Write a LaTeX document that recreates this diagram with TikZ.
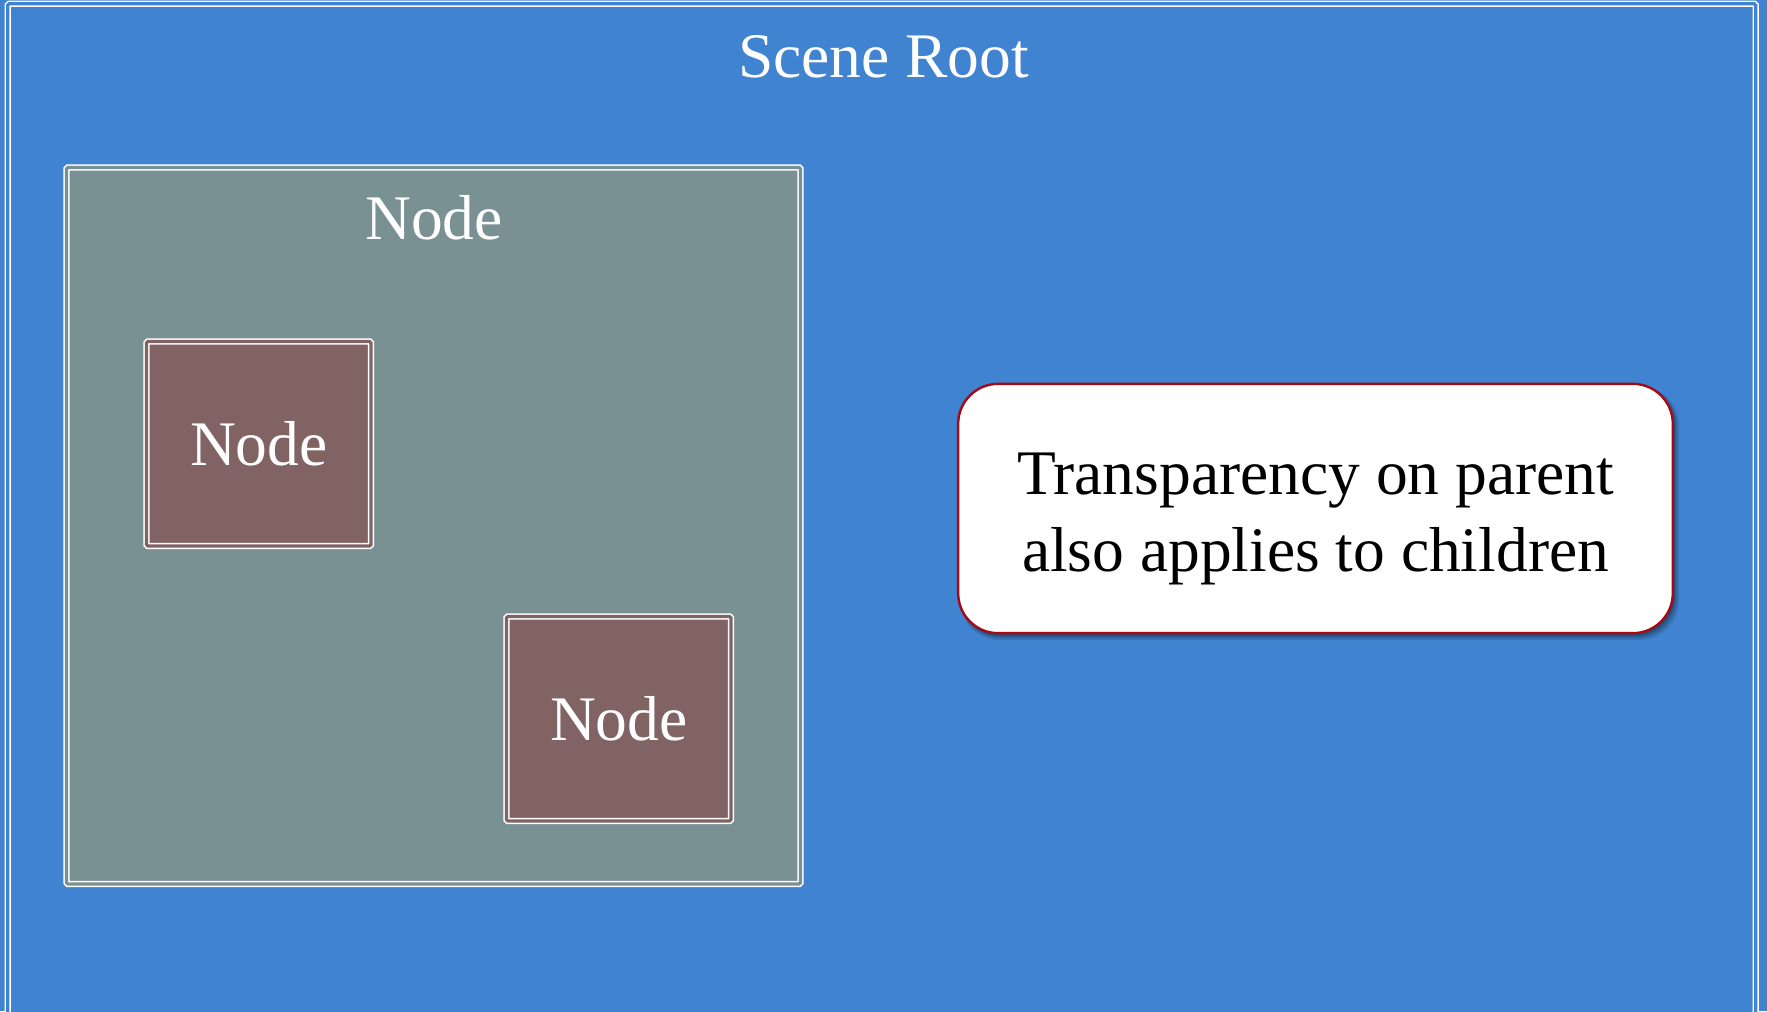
\documentclass[tikz,border=0pt]{standalone}
\usepackage{fontspec}
\setmainfont{Liberation Serif}
\definecolor{bgblue}{RGB}{64,131,208}
\definecolor{nodegray}{RGB}{122,145,148}
\definecolor{nodebrown}{RGB}{130,99,100}
\definecolor{calloutred}{RGB}{165,10,20}
\begin{document}
\begin{tikzpicture}[x=0.75pt,y=-0.75pt,
  frame/.style={draw=white, double=#1, double distance=2.4pt, line width=1.1pt, fill=#1, inner sep=0pt, rounded corners=1pt},
  bigfont/.style={font=\fontsize{47.6}{57.6}\selectfont},
  lbl/.style={bigfont, text=white, inner sep=0pt, anchor=base},
  callout/.style={draw=calloutred, line width=1.8pt, fill=white, rounded corners=30pt},
  shadowbox/.style={fill=black, rounded corners=30pt}]
\useasboundingbox (0,0) rectangle (1767,1011);
\fill[bgblue] (0,0) rectangle (1767,1011);
\begin{scope}
\clip (0,0) rectangle (1767,1011);
\node[frame=bgblue, minimum width=1311pt, minimum height=780pt] (root) at (881.75,523.75) {};
\end{scope}
\node[lbl] (rootlabel) at (883.5,77) {Scene Root};
\node[frame=nodegray, minimum width=550.5pt, minimum height=537.4pt] (parent) at (433.5,525.75) {};
\node[lbl] (parentlabel) at (434,239) {Node};
\node[frame=nodebrown, minimum width=168.4pt, minimum height=153.4pt, text=white, bigfont] (child1) at (258.75,443.75) {Node};
\node[frame=nodebrown, minimum width=168.4pt, minimum height=153.4pt, text=white, bigfont] (child2) at (618.75,718.75) {Node};
\fill[shadowbox, opacity=0.12] (960,386) rectangle (1679,640);
\fill[shadowbox, opacity=0.15] (960,386) rectangle (1677,638);
\fill[shadowbox, opacity=0.2] (960,386) rectangle (1675,636);
\node[callout, minimum width=536pt, minimum height=187pt] (note) at (1315.5,508.5) {};
\node[bigfont, align=center, text=black, inner sep=0pt] (notetext) at (1315.5,519) {Transparency on parent\\also applies to children};
\end{tikzpicture}
\end{document}
